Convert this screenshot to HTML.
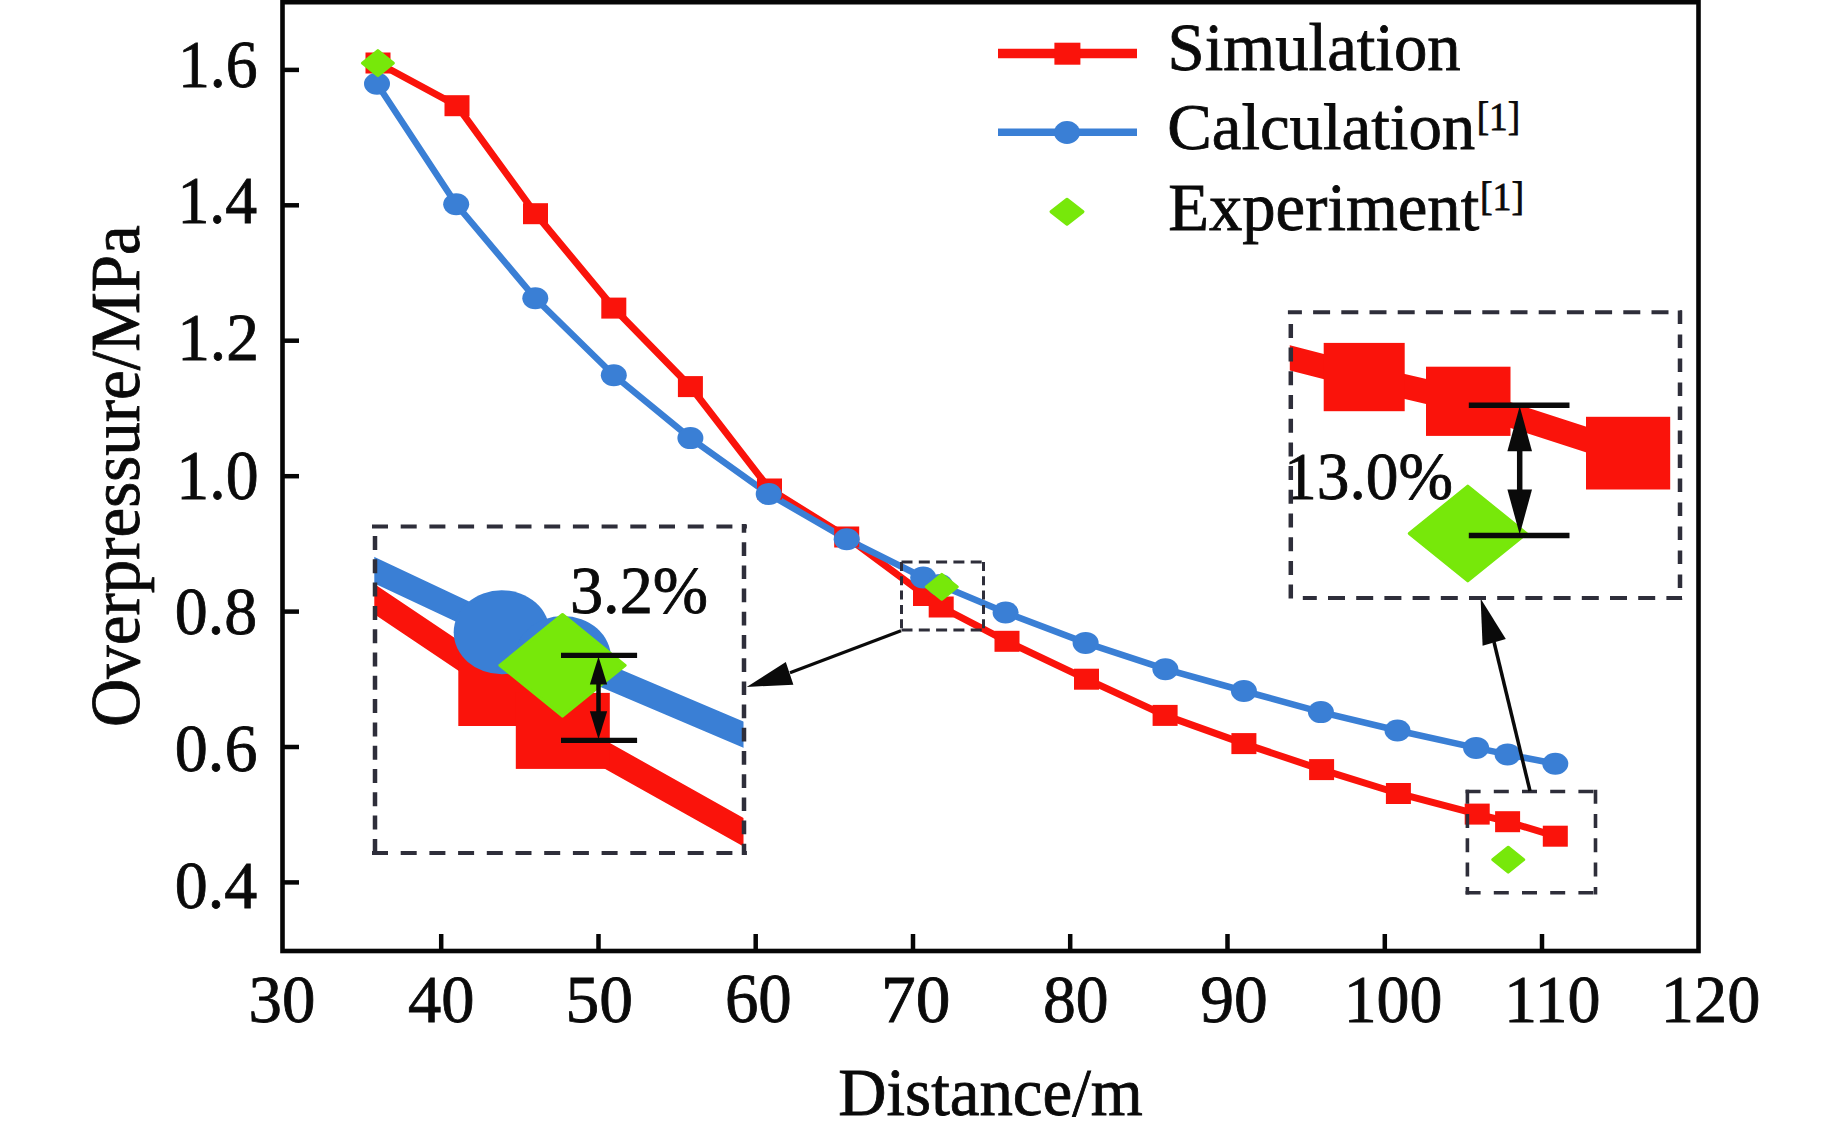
<!DOCTYPE html><html><head><meta charset="utf-8"><style>html,body{margin:0;padding:0;background:#fff;overflow:hidden}svg{display:block}</style></head><body>
<svg width="1843" height="1136" viewBox="0 0 1843 1136">
<rect width="1843" height="1136" fill="#fff"/>
<polyline points="378,63 457,105.7 535.5,213.7 613.8,308.1 690.4,386.6 769.5,489 846.7,537 925.5,595.5 941.2,607 1007,641.3 1086.5,679.2 1165.1,715.4 1243.9,743.6 1321.6,769.6 1398.4,793.5 1477.2,814.1 1507.6,821.7 1555.3,836.2" fill="none" stroke="#fa130b" stroke-width="7"/>
<polyline points="377,83.7 456.2,204.3 535.3,298.3 613.8,375.2 690.4,438.1 768.7,494 846.7,539.2 923.2,577.5 940,585 1005.6,612.5 1085.6,642.9 1165.4,669.2 1243.9,691 1320.9,712.1 1397.5,730.5 1476.1,747.9 1507.6,754.4 1555.3,763.7" fill="none" stroke="#3a7fd5" stroke-width="6.5"/>
<rect x="365.5" y="52.5" width="25" height="21" fill="#fa130b"/>
<rect x="444.5" y="95.2" width="25" height="21" fill="#fa130b"/>
<rect x="523.0" y="203.2" width="25" height="21" fill="#fa130b"/>
<rect x="601.3" y="297.6" width="25" height="21" fill="#fa130b"/>
<rect x="677.9" y="376.1" width="25" height="21" fill="#fa130b"/>
<rect x="757.0" y="478.5" width="25" height="21" fill="#fa130b"/>
<rect x="834.2" y="526.5" width="25" height="21" fill="#fa130b"/>
<rect x="913.0" y="585.0" width="25" height="21" fill="#fa130b"/>
<rect x="928.7" y="596.5" width="25" height="21" fill="#fa130b"/>
<rect x="994.5" y="630.8" width="25" height="21" fill="#fa130b"/>
<rect x="1074.0" y="668.7" width="25" height="21" fill="#fa130b"/>
<rect x="1152.6" y="704.9" width="25" height="21" fill="#fa130b"/>
<rect x="1231.4" y="733.1" width="25" height="21" fill="#fa130b"/>
<rect x="1309.1" y="759.1" width="25" height="21" fill="#fa130b"/>
<rect x="1385.9" y="783.0" width="25" height="21" fill="#fa130b"/>
<rect x="1464.7" y="803.6" width="25" height="21" fill="#fa130b"/>
<rect x="1495.1" y="811.2" width="25" height="21" fill="#fa130b"/>
<rect x="1542.8" y="825.7" width="25" height="21" fill="#fa130b"/>
<ellipse cx="377" cy="83.7" rx="13" ry="11" fill="#3a7fd5"/>
<ellipse cx="456.2" cy="204.3" rx="13" ry="11" fill="#3a7fd5"/>
<ellipse cx="535.3" cy="298.3" rx="13" ry="11" fill="#3a7fd5"/>
<ellipse cx="613.8" cy="375.2" rx="13" ry="11" fill="#3a7fd5"/>
<ellipse cx="690.4" cy="438.1" rx="13" ry="11" fill="#3a7fd5"/>
<ellipse cx="768.7" cy="494" rx="13" ry="11" fill="#3a7fd5"/>
<ellipse cx="846.7" cy="539.2" rx="13" ry="11" fill="#3a7fd5"/>
<ellipse cx="923.2" cy="577.5" rx="13" ry="11" fill="#3a7fd5"/>
<ellipse cx="940" cy="585" rx="13" ry="11" fill="#3a7fd5"/>
<ellipse cx="1005.6" cy="612.5" rx="13" ry="11" fill="#3a7fd5"/>
<ellipse cx="1085.6" cy="642.9" rx="13" ry="11" fill="#3a7fd5"/>
<ellipse cx="1165.4" cy="669.2" rx="13" ry="11" fill="#3a7fd5"/>
<ellipse cx="1243.9" cy="691" rx="13" ry="11" fill="#3a7fd5"/>
<ellipse cx="1320.9" cy="712.1" rx="13" ry="11" fill="#3a7fd5"/>
<ellipse cx="1397.5" cy="730.5" rx="13" ry="11" fill="#3a7fd5"/>
<ellipse cx="1476.1" cy="747.9" rx="13" ry="11" fill="#3a7fd5"/>
<ellipse cx="1507.6" cy="754.4" rx="13" ry="11" fill="#3a7fd5"/>
<ellipse cx="1555.3" cy="763.7" rx="13" ry="11" fill="#3a7fd5"/>
<polygon points="377.9,50.6 393.4,63.1 377.9,75.6 362.4,63.1" fill="#77e80a" stroke="#77e80a" stroke-width="3" stroke-linejoin="round"/>
<polygon points="941.8,574.3 957.3,586.8 941.8,599.3 926.3,586.8" fill="#77e80a" stroke="#77e80a" stroke-width="3" stroke-linejoin="round"/>
<polygon points="1508.2,847.2 1523.7,859.7 1508.2,872.2 1492.7,859.7" fill="#77e80a" stroke="#77e80a" stroke-width="3" stroke-linejoin="round"/>
<rect x="282.5" y="2.2" width="1416" height="948.8" fill="none" stroke="#060606" stroke-width="4.6"/>
<line x1="284" y1="882.4" x2="299" y2="882.4" stroke="#060606" stroke-width="4.5"/>
<g id="y0.4" transform="matrix(0.97738,0,0,0.99456,5.132,7.354)"><text x="258" y="905.9" font-size="67.5" text-anchor="end" font-family="Liberation Serif" fill="#0a0a0a" stroke="#0a0a0a" stroke-width="0.8">0.4</text></g>
<line x1="284" y1="747.0" x2="299" y2="747.0" stroke="#060606" stroke-width="4.5"/>
<g id="y0.6" transform="matrix(0.97890,0,0,1.00879,4.877,-5.817)"><text x="258" y="770.5" font-size="67.5" text-anchor="end" font-family="Liberation Serif" fill="#0a0a0a" stroke="#0a0a0a" stroke-width="0.8">0.6</text></g>
<line x1="284" y1="611.6" x2="299" y2="611.6" stroke="#060606" stroke-width="4.5"/>
<g id="y0.8" transform="matrix(0.97668,0,0,1.00099,5.260,-1.353)"><text x="258" y="635.1" font-size="67.5" text-anchor="end" font-family="Liberation Serif" fill="#0a0a0a" stroke="#0a0a0a" stroke-width="0.8">0.8</text></g>
<line x1="284" y1="476.2" x2="299" y2="476.2" stroke="#060606" stroke-width="4.5"/>
<g id="y1.0" transform="matrix(0.97433,0,0,1.03087,7.192,-16.534)"><text x="258" y="499.7" font-size="67.5" text-anchor="end" font-family="Liberation Serif" fill="#0a0a0a" stroke="#0a0a0a" stroke-width="0.8">1.0</text></g>
<line x1="284" y1="340.7" x2="299" y2="340.7" stroke="#060606" stroke-width="4.5"/>
<g id="y1.2" transform="matrix(0.96948,0,0,0.98884,8.833,0.086)"><text x="258" y="364.2" font-size="67.5" text-anchor="end" font-family="Liberation Serif" fill="#0a0a0a" stroke="#0a0a0a" stroke-width="0.8">1.2</text></g>
<line x1="284" y1="205.3" x2="299" y2="205.3" stroke="#060606" stroke-width="4.5"/>
<g id="y1.4" transform="matrix(0.94466,0,0,1.00620,13.367,-6.842)"><text x="258" y="228.8" font-size="67.5" text-anchor="end" font-family="Liberation Serif" fill="#0a0a0a" stroke="#0a0a0a" stroke-width="0.8">1.4</text></g>
<line x1="284" y1="69.9" x2="299" y2="69.9" stroke="#060606" stroke-width="4.5"/>
<g id="y1.6" transform="matrix(0.94419,0,0,1.01620,13.954,-8.256)"><text x="258" y="93.4" font-size="67.5" text-anchor="end" font-family="Liberation Serif" fill="#0a0a0a" stroke="#0a0a0a" stroke-width="0.8">1.6</text></g>
<g id="x30" transform="matrix(0.99162,0,0,1.01224,0.564,-12.328)"><text x="283.9" y="1022" font-size="67.5" text-anchor="middle" font-family="Liberation Serif" fill="#0a0a0a" stroke="#0a0a0a" stroke-width="0.8">30</text></g>
<line x1="441.2" y1="934" x2="441.2" y2="950" stroke="#060606" stroke-width="4.5"/>
<g id="x40" transform="matrix(0.98532,0,0,0.99361,6.597,6.776)"><text x="441.2" y="1022" font-size="67.5" text-anchor="middle" font-family="Liberation Serif" fill="#0a0a0a" stroke="#0a0a0a" stroke-width="0.8">40</text></g>
<line x1="598.5" y1="934" x2="598.5" y2="950" stroke="#060606" stroke-width="4.5"/>
<g id="x50" transform="matrix(1.00071,0,0,1.01630,0.311,-16.419)"><text x="598.5" y="1022" font-size="67.5" text-anchor="middle" font-family="Liberation Serif" fill="#0a0a0a" stroke="#0a0a0a" stroke-width="0.8">50</text></g>
<line x1="755.7" y1="934" x2="755.7" y2="950" stroke="#060606" stroke-width="4.5"/>
<g id="x60" transform="matrix(0.99123,0,0,1.03584,9.282,-36.459)"><text x="755.7" y="1022" font-size="67.5" text-anchor="middle" font-family="Liberation Serif" fill="#0a0a0a" stroke="#0a0a0a" stroke-width="0.8">60</text></g>
<line x1="913.0" y1="934" x2="913.0" y2="950" stroke="#060606" stroke-width="4.5"/>
<g id="x70" transform="matrix(1.02902,0,0,0.99453,-23.830,5.856)"><text x="913.0" y="1022" font-size="67.5" text-anchor="middle" font-family="Liberation Serif" fill="#0a0a0a" stroke="#0a0a0a" stroke-width="0.8">70</text></g>
<line x1="1070.2" y1="934" x2="1070.2" y2="950" stroke="#060606" stroke-width="4.5"/>
<g id="x80" transform="matrix(0.97264,0,0,1.01224,34.860,-12.376)"><text x="1070.2" y="1022" font-size="67.5" text-anchor="middle" font-family="Liberation Serif" fill="#0a0a0a" stroke="#0a0a0a" stroke-width="0.8">80</text></g>
<line x1="1227.5" y1="934" x2="1227.5" y2="950" stroke="#060606" stroke-width="4.5"/>
<g id="x90" transform="matrix(1.00097,0,0,1.01276,5.250,-12.835)"><text x="1227.5" y="1022" font-size="67.5" text-anchor="middle" font-family="Liberation Serif" fill="#0a0a0a" stroke="#0a0a0a" stroke-width="0.8">90</text></g>
<line x1="1384.8" y1="934" x2="1384.8" y2="950" stroke="#060606" stroke-width="4.5"/>
<g id="x100" transform="matrix(0.97559,0,0,0.99481,42.064,5.533)"><text x="1384.8" y="1022" font-size="67.5" text-anchor="middle" font-family="Liberation Serif" fill="#0a0a0a" stroke="#0a0a0a" stroke-width="0.8">100</text></g>
<line x1="1542.0" y1="934" x2="1542.0" y2="950" stroke="#060606" stroke-width="4.5"/>
<g id="x110" transform="matrix(0.97884,0,0,0.99452,42.839,5.890)"><text x="1542.0" y="1022" font-size="67.5" text-anchor="middle" font-family="Liberation Serif" fill="#0a0a0a" stroke="#0a0a0a" stroke-width="0.8">110</text></g>
<g id="x120" transform="matrix(0.98315,0,0,0.99408,39.907,6.333)"><text x="1699.3" y="1022" font-size="67.5" text-anchor="middle" font-family="Liberation Serif" fill="#0a0a0a" stroke="#0a0a0a" stroke-width="0.8">120</text></g>
<g id="dist" transform="matrix(0.99065,0,0,1.00677,8.776,-8.598)"><text x="991" y="1116" font-size="67.5" text-anchor="middle" font-family="Liberation Serif" fill="#0a0a0a" stroke="#0a0a0a" stroke-width="0.8">Distance/m</text></g>
<g id="over" transform="matrix(1.03505,0,0,0.99117,-4.755,5.349)"><text transform="translate(138.5,475) rotate(-90)" x="0" y="0" font-size="67.5" text-anchor="middle" font-family="Liberation Serif" fill="#0a0a0a" stroke="#0a0a0a" stroke-width="0.8">Overpressure/MPa</text></g>
<line x1="998" y1="53.5" x2="1137" y2="53.5" stroke="#fa130b" stroke-width="9.5"/>
<rect x="1054.4" y="42.7" width="26" height="22" fill="#fa130b"/>
<line x1="998" y1="132.2" x2="1137" y2="132.2" stroke="#3a7fd5" stroke-width="7.5"/>
<ellipse cx="1067" cy="132.5" rx="13" ry="11.4" fill="#3a7fd5"/>
<polygon points="1067,199.2 1083.0,211.7 1067,224.2 1051.0,211.7" fill="#77e80a" stroke="#77e80a" stroke-width="3" stroke-linejoin="round"/>
<g id="sim" transform="matrix(0.98962,0,0,0.98682,11.699,1.517)"><text x="1168" y="69.3" font-size="67.5" font-family="Liberation Serif" fill="#0a0a0a" stroke="#0a0a0a" stroke-width="0.8">Simulation</text></g>
<g id="calc" transform="matrix(0.99054,0,0,0.96919,10.184,3.689)"><text x="1168" y="150.4" font-size="67.5" font-family="Liberation Serif" fill="#0a0a0a" stroke="#0a0a0a" stroke-width="0.8">Calculation</text></g>
<g id="calc1" transform="matrix(0.91061,0,0,0.96964,130.794,4.538)"><text x="1478" y="129" font-size="41" font-family="Liberation Serif" fill="#0a0a0a" stroke="#0a0a0a" stroke-width="0.8">[1]</text></g>
<g id="exp" transform="matrix(0.98757,0,0,1.00000,14.756,0.702)"><text x="1168" y="229.4" font-size="67.5" font-family="Liberation Serif" fill="#0a0a0a" stroke="#0a0a0a" stroke-width="0.8">Experiment</text></g>
<g id="exp1" transform="matrix(0.92456,0,0,0.97376,110.609,6.393)"><text x="1481" y="208.8" font-size="41" font-family="Liberation Serif" fill="#0a0a0a" stroke="#0a0a0a" stroke-width="0.8">[1]</text></g>
<line x1="901.5" y1="562" x2="983.5" y2="562" stroke="#2e2e3a" stroke-width="3" stroke-dasharray="11 6.3"/><line x1="901.5" y1="630" x2="983.5" y2="630" stroke="#2e2e3a" stroke-width="3" stroke-dasharray="11 6.3"/><line x1="901.5" y1="562" x2="901.5" y2="630" stroke="#2e2e3a" stroke-width="3" stroke-dasharray="9 5.3"/><line x1="983.5" y1="562" x2="983.5" y2="630" stroke="#2e2e3a" stroke-width="3" stroke-dasharray="9 5.3"/>
<line x1="1465.6" y1="791.5" x2="1597.3" y2="791.5" stroke="#2e2e3a" stroke-width="3.6" stroke-dasharray="15 13.2" stroke-dashoffset="0"/>
<line x1="1465.6" y1="892.7" x2="1597.3" y2="892.7" stroke="#2e2e3a" stroke-width="3.6" stroke-dasharray="15 13.2" stroke-dashoffset="0"/>
<line x1="1467.4" y1="789.7" x2="1467.4" y2="894.5" stroke="#2e2e3a" stroke-width="3.6" stroke-dasharray="14 10.3" stroke-dashoffset="0"/>
<line x1="1595.5" y1="789.7" x2="1595.5" y2="894.5" stroke="#2e2e3a" stroke-width="3.6" stroke-dasharray="14 10.3" stroke-dashoffset="0"/>
<defs><clipPath id="c1"><rect x="374.3" y="525.2" width="369.2" height="327.1"/></clipPath><clipPath id="c2"><rect x="1289.8" y="311.8" width="390.4" height="285.6"/></clipPath></defs>
<g clip-path="url(#c1)">
<polyline points="360,589.5 505.3,687 562.8,730.9 760,841.5" fill="none" stroke="#fa130b" stroke-width="25"/>
<rect x="458.3" y="648.5" width="94" height="77.5" fill="#fa130b"/>
<rect x="515.8" y="692.9" width="94" height="76" fill="#fa130b"/>
<polyline points="360,563.5 501.7,630 563,658 760,741.7" fill="none" stroke="#3a7fd5" stroke-width="24"/>
<ellipse cx="501.7" cy="632.2" rx="48" ry="42" fill="#3a7fd5"/>
<ellipse cx="563" cy="658" rx="48" ry="42" fill="#3a7fd5"/>
<polygon points="562.5,614.5 625.15,665.3 562.5,716.0999999999999 499.85,665.3" fill="#77e80a" stroke="#77e80a" stroke-width="3" stroke-linejoin="round"/>
</g>
<line x1="561" y1="655.4" x2="637.1" y2="655.4" stroke="#0a0a0a" stroke-width="5.3"/><line x1="561" y1="740.3" x2="637.1" y2="740.3" stroke="#0a0a0a" stroke-width="5.3"/><line x1="598.5" y1="669.9" x2="598.5" y2="725.8" stroke="#0a0a0a" stroke-width="4.5"/><polygon points="598.5,656.4 607.15,684.4 589.85,684.4" fill="#0a0a0a"/><polygon points="598.5,739.3 607.15,711.3 589.85,711.3" fill="#0a0a0a"/>
<g id="p32" transform="matrix(0.98303,0,0,1.00829,9.601,-4.872)"><text x="570" y="612.5" font-size="67.5" font-family="Liberation Serif" fill="#0a0a0a" stroke="#0a0a0a" stroke-width="0.8">3.2%</text></g>
<g clip-path="url(#c2)">
<polyline points="1280,355.4 1364.2,377 1468.2,401.3 1628.1,453.2" fill="none" stroke="#fa130b" stroke-width="24.5"/>
<rect x="1323.7" y="342.9" width="81" height="68.3" fill="#fa130b"/>
<rect x="1426.0" y="366.7" width="84.5" height="69.2" fill="#fa130b"/>
<rect x="1586.0" y="416.8" width="84.2" height="72.7" fill="#fa130b"/>
<polygon points="1467.8,486.1 1526.3,533.5 1467.8,580.9 1409.3,533.5" fill="#77e80a" stroke="#77e80a" stroke-width="3" stroke-linejoin="round"/>
</g>
<line x1="1468.8" y1="405.2" x2="1569.5" y2="405.2" stroke="#0a0a0a" stroke-width="5.5"/><line x1="1468.8" y1="535.5" x2="1569.5" y2="535.5" stroke="#0a0a0a" stroke-width="5.5"/><line x1="1519.7" y1="428.2" x2="1519.7" y2="512.5" stroke="#0a0a0a" stroke-width="5.5"/><polygon points="1519.7,406.2 1532.0,451.2 1507.4,451.2" fill="#0a0a0a"/><polygon points="1519.7,534.5 1532.0,489.5 1507.4,489.5" fill="#0a0a0a"/>
<g id="p13" transform="matrix(0.96922,0,0,1.01342,36.630,-7.113)"><text x="1287" y="499" font-size="67.5" font-family="Liberation Serif" fill="#0a0a0a" stroke="#0a0a0a" stroke-width="0.8">13.0%</text></g>
<line x1="901" y1="630.7" x2="790" y2="672.7" stroke="#0a0a0a" stroke-width="3.2"/>
<polygon points="746.7,686.9 785.8,662 793.4,684.7" fill="#0a0a0a"/>
<line x1="1530" y1="791" x2="1494" y2="642" stroke="#0a0a0a" stroke-width="3.5"/>
<polygon points="1480.6,598.4 1482.6,645.8 1505.8,639" fill="#0a0a0a"/>
<line x1="372" y1="526.5" x2="746.9" y2="526.5" stroke="#2e2e3a" stroke-width="4" stroke-dasharray="16 12.7" stroke-dashoffset="0"/>
<line x1="372" y1="853" x2="746.9" y2="853" stroke="#2e2e3a" stroke-width="4" stroke-dasharray="16 12.7" stroke-dashoffset="0"/>
<line x1="375" y1="536" x2="375" y2="855" stroke="#2e2e3a" stroke-width="4.5" stroke-dasharray="14 9.3" stroke-dashoffset="0"/>
<line x1="744" y1="524" x2="744" y2="855" stroke="#2e2e3a" stroke-width="4.5" stroke-dasharray="13.7 9.5" stroke-dashoffset="5"/>
<line x1="1287.9" y1="312.3" x2="1682" y2="312.3" stroke="#2e2e3a" stroke-width="4" stroke-dasharray="17 11.2" stroke-dashoffset="3"/>
<line x1="1302.8" y1="598" x2="1682" y2="598" stroke="#2e2e3a" stroke-width="4" stroke-dasharray="17 11.2" stroke-dashoffset="3"/>
<line x1="1290.8" y1="323.9" x2="1290.8" y2="600" stroke="#2e2e3a" stroke-width="4.5" stroke-dasharray="14 9.7" stroke-dashoffset="0"/>
<line x1="1680" y1="310.6" x2="1680" y2="600" stroke="#2e2e3a" stroke-width="4.5" stroke-dasharray="13.5 10.5" stroke-dashoffset="0"/>
</svg></body></html>
